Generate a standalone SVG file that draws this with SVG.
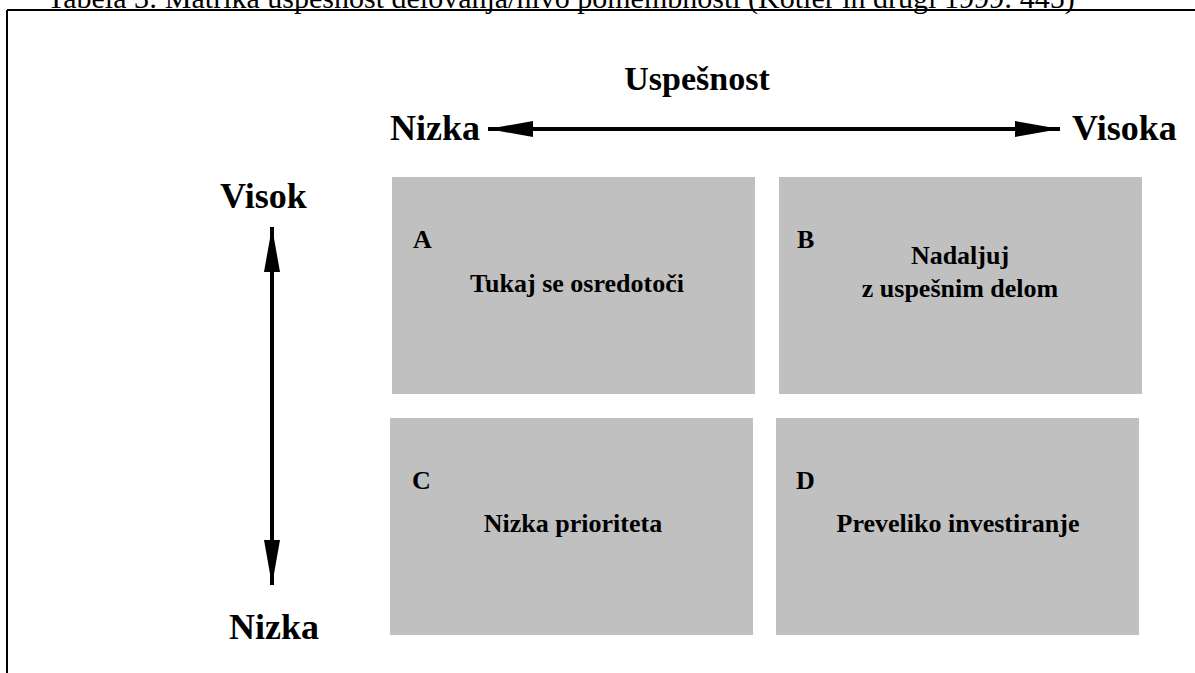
<svg xmlns="http://www.w3.org/2000/svg" width="1195" height="673" viewBox="0 0 1195 673">
  <style>
    .cap { font-family: "Liberation Serif", "Times New Roman", serif; font-size: 30px; fill: #000; }
    .axis { font-family: "Liberation Serif", "Times New Roman", serif; font-weight: bold; font-size: 36px; fill: #000; }
    .title { font-size: 34px; }
    .cell { fill: #c0c0c0; }
    .lbl { font-family: "Liberation Serif", "Times New Roman", serif; font-weight: bold; font-size: 26px; fill: #000; }
    .frame { stroke: #000; stroke-width: 2; fill: none; }
    .shaft { stroke: #000; stroke-width: 4; fill: none; }
  </style>
  <defs>
    <marker id="head" viewBox="0 0 45 16" refX="45" refY="8" markerWidth="45" markerHeight="16" markerUnits="userSpaceOnUse" orient="auto-start-reverse">
      <path d="M0,0 L45,8 L0,16 Z" fill="#000"/>
    </marker>
  </defs>
  <rect width="1195" height="673" fill="#fff"/>

  <!-- caption, clipped by the top edge -->
  <text class="cap" x="47" y="8">Tabela 3: Matrika uspešnost delovanja/nivo pomembnosti (Kotler in drugi 1999: 445)</text>

  <!-- table frame -->
  <path class="frame" d="M7,10 H1195 M7,10 V673"/>

  <!-- axis titles -->
  <g id="axis-labels">
    <text class="axis title" x="697" y="90" text-anchor="middle">Uspešnost</text>
    <text class="axis" x="390" y="140">Nizka</text>
    <text class="axis" x="1072" y="140">Visoka</text>
    <text class="axis" x="220" y="208">Visok</text>
    <text class="axis" x="229" y="639">Nizka</text>
  </g>

  <!-- axis arrows -->
  <g id="connectors">
    <line class="shaft" x1="488" y1="129" x2="1060" y2="129" marker-start="url(#head)" marker-end="url(#head)"/>
    <line class="shaft" x1="272" y1="227" x2="272" y2="585" marker-start="url(#head)" marker-end="url(#head)"/>
  </g>

  <!-- quadrants -->
  <g id="node-a">
    <rect class="cell" x="392" y="177" width="363" height="217"/>
    <text class="lbl" x="413" y="248">A</text>
    <text class="lbl" x="577" y="292" text-anchor="middle">Tukaj se osredotoči</text>
  </g>
  <g id="node-b">
    <rect class="cell" x="779" y="177" width="363" height="217"/>
    <text class="lbl" x="797" y="248">B</text>
    <text class="lbl" x="960" y="264" text-anchor="middle">Nadaljuj</text>
    <text class="lbl" x="960" y="297" text-anchor="middle">z uspešnim delom</text>
  </g>
  <g id="node-c">
    <rect class="cell" x="390" y="418" width="363" height="217"/>
    <text class="lbl" x="412" y="489">C</text>
    <text class="lbl" x="573" y="532" text-anchor="middle">Nizka prioriteta</text>
  </g>
  <g id="node-d">
    <rect class="cell" x="776" y="418" width="363" height="217"/>
    <text class="lbl" x="796" y="489">D</text>
    <text class="lbl" x="958" y="532" text-anchor="middle">Preveliko investiranje</text>
  </g>
</svg>
